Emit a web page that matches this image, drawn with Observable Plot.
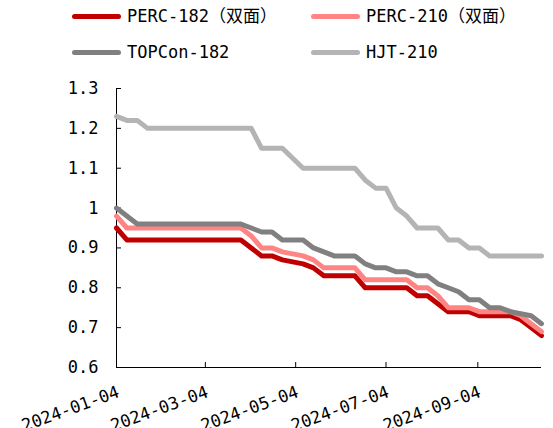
<!DOCTYPE html>
<html><head><meta charset="utf-8">
<script src="https://cdn.jsdelivr.net/npm/d3@7"></script>
<script src="https://cdn.jsdelivr.net/npm/@observablehq/plot@0.6"></script>
<style>
body{margin:0;background:#fff;}
#legend{position:relative;width:553px;height:72px;font-family:"DejaVu Sans Mono","Noto Sans CJK SC",monospace;font-size:17px;color:#000;}
.item{position:absolute;display:flex;align-items:center;height:20px;line-height:20px;white-space:nowrap;}
.sw{width:49px;height:5px;border-radius:3px;margin-right:6px;}
</style></head><body>
<div id="legend"></div><div id="chart"></div>
<script>
const dates = ["2024-01-04","2024-01-11","2024-01-18","2024-01-25","2024-02-01","2024-02-08","2024-02-15","2024-02-22","2024-02-29","2024-03-07","2024-03-14","2024-03-21","2024-03-28","2024-04-04","2024-04-11","2024-04-18","2024-04-25","2024-05-02","2024-05-09","2024-05-16","2024-05-23","2024-05-30","2024-06-06","2024-06-13","2024-06-20","2024-06-27","2024-07-04","2024-07-11","2024-07-18","2024-07-25","2024-08-01","2024-08-08","2024-08-15","2024-08-22","2024-08-29","2024-09-05","2024-09-12","2024-09-19","2024-09-26","2024-10-03","2024-10-10","2024-10-17"];
const perc182 = [0.95,0.92,0.92,0.92,0.92,0.92,0.92,0.92,0.92,0.92,0.92,0.92,0.92,0.90,0.88,0.88,0.87,0.865,0.86,0.85,0.83,0.83,0.83,0.83,0.80,0.80,0.80,0.80,0.80,0.78,0.78,0.76,0.74,0.74,0.74,0.73,0.73,0.73,0.73,0.72,0.70,0.68];
const perc210 = [0.98,0.95,0.95,0.95,0.95,0.95,0.95,0.95,0.95,0.95,0.95,0.95,0.95,0.93,0.90,0.90,0.89,0.885,0.88,0.87,0.85,0.85,0.85,0.85,0.82,0.82,0.82,0.82,0.82,0.80,0.80,0.78,0.75,0.75,0.75,0.74,0.74,0.74,0.74,0.73,0.71,0.69];
const topcon182 = [1.00,0.98,0.96,0.96,0.96,0.96,0.96,0.96,0.96,0.96,0.96,0.96,0.96,0.95,0.94,0.94,0.92,0.92,0.92,0.90,0.89,0.88,0.88,0.88,0.86,0.85,0.85,0.84,0.84,0.83,0.83,0.81,0.80,0.79,0.77,0.77,0.75,0.75,0.74,0.735,0.73,0.71];
const hjt210 = [1.23,1.22,1.22,1.20,1.20,1.20,1.20,1.20,1.20,1.20,1.20,1.20,1.20,1.20,1.15,1.15,1.15,1.125,1.10,1.10,1.10,1.10,1.10,1.10,1.07,1.05,1.05,1.00,0.98,0.95,0.95,0.95,0.92,0.92,0.90,0.90,0.88,0.88,0.88,0.88,0.88,0.88];
const seriesNames = ["PERC-182（双面）","PERC-210（双面）","TOPCon-182","HJT-210"];
const seriesColors = ["#C00000","#FF8585","#808080","#B4B4B4"];
const yTicks = [0.6,0.7,0.8,0.9,1.0,1.1,1.2,1.3];
const xTickLabels = ["2024-01-04","2024-03-04","2024-05-04","2024-07-04","2024-09-04"];

const parse = d3.utcParse("%Y-%m-%d");
const allSeries = [perc182, perc210, topcon182, hjt210];
const table = [];
allSeries.forEach((vals, si) => vals.forEach((v, i) => table.push({date: parse(dates[i]), value: v, series: seriesNames[si]})));
const xTicks = xTickLabels.map(parse);

// legend
const legend = document.getElementById("legend");
const pos = [[72,6],[311,6],[72,42],[311,42]];
seriesNames.forEach((n,i)=>{
  const it = document.createElement("div");
  it.className="item"; it.style.left=pos[i][0]+"px"; it.style.top=pos[i][1]+"px";
  it.innerHTML = `<span class="sw" style="background:${seriesColors[i]}"></span><span>${n}</span>`;
  legend.appendChild(it);
});

const W=553, H=356, mL=116, mR=12, mT=16, mB=61;
const chart = Plot.plot({
  width: W, height: H, marginLeft: mL, marginRight: mR, marginTop: mT, marginBottom: mB,
  style: {fontFamily: "'DejaVu Sans Mono', monospace", fontSize: "17px", color: "#000", background: "#fff"},
  x: {type: "utc", domain: [parse(dates[0]), parse(dates[dates.length-1])], axis: null},
  y: {domain: [yTicks[0], yTicks[yTicks.length-1]], label: null},
  color: {domain: seriesNames, range: seriesColors},
  marks: [
    Plot.ruleY([yTicks[0]], {stroke: "#000"}),
    Plot.ruleX([parse(dates[0])], {stroke: "#000"}),
    Plot.tickY(yTicks, {y: d => d, stroke: "#000", insetRight: W - mL - mR - 5}),
    Plot.tickX(xTicks, {x: d => d, stroke: "#000", insetTop: H - mT - mB - 5}),
    Plot.axisY({ticks: yTicks, tickSize: 0, tickPadding: 18, fontSize: 17, label: null, tickFormat: d => d === 1 ? "1" : d3.format(".1f")(d)}),
    Plot.text(xTicks, {x: d => d, frameAnchor: "bottom", text: (d, i) => xTickLabels[i], rotate: -20, textAnchor: "end", lineAnchor: "bottom", dx: 4, dy: 29, fontSize: 17, fill: "#000"}),
    Plot.line(table, {x: "date", y: "value", z: "series", stroke: "series", strokeWidth: 5, strokeLinejoin: "round", strokeLinecap: "round"})
  ]
});
document.getElementById("chart").appendChild(chart);
</script>
</body></html>
